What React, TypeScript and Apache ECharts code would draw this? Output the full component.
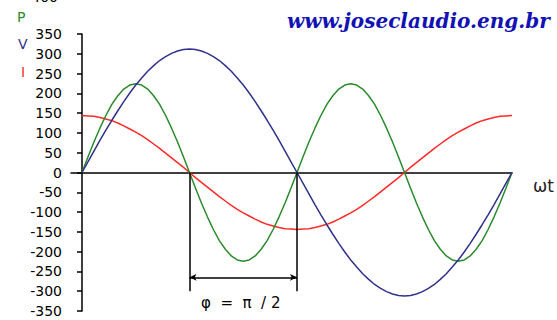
import React, { useEffect, useRef } from "react";
import * as echarts from "echarts";

// ωt in degrees, sampled every 5°
const ANGLES = [
  0, 5, 10, 15, 20, 25, 30, 35, 40, 45, 50, 55, 60, 65, 70, 75, 80, 85, 90,
  95, 100, 105, 110, 115, 120, 125, 130, 135, 140, 145, 150, 155, 160, 165, 170, 175, 180,
  185, 190, 195, 200, 205, 210, 215, 220, 225, 230, 235, 240, 245, 250, 255, 260, 265, 270,
  275, 280, 285, 290, 295, 300, 305, 310, 315, 320, 325, 330, 335, 340, 345, 350, 355, 360,
];

// Voltage V
const V_VALUES = [
  0, 27, 54, 81, 107, 132, 156, 179, 201, 221, 239, 256, 270, 283, 293, 301, 307, 311, 312,
  311, 307, 301, 293, 283, 270, 256, 239, 221, 201, 179, 156, 132, 107, 81, 54, 27, 0,
  -27, -54, -81, -107, -132, -156, -179, -201, -221, -239, -256, -270, -283, -293, -301, -307, -311, -312,
  -311, -307, -301, -293, -283, -270, -256, -239, -221, -201, -179, -156, -132, -107, -81, -54, -27, 0,
];

// Current I
const I_VALUES = [
  144, 143, 142, 139, 135, 131, 125, 118, 110, 102, 93, 83, 72, 61, 49, 37, 25, 13, 0,
  -13, -25, -37, -49, -61, -72, -83, -93, -102, -110, -118, -125, -131, -135, -139, -142, -143, -144,
  -143, -142, -139, -135, -131, -125, -118, -110, -102, -93, -83, -72, -61, -49, -37, -25, -13, 0,
  13, 25, 37, 49, 61, 72, 83, 93, 102, 110, 118, 125, 131, 135, 139, 142, 143, 144,
];

// Power P
const P_VALUES = [
  0, 39, 77, 112, 144, 172, 194, 211, 221, 224, 221, 211, 194, 172, 144, 112, 77, 39, 0,
  -39, -77, -112, -144, -172, -194, -211, -221, -224, -221, -211, -194, -172, -144, -112, -77, -39, 0,
  39, 77, 112, 144, 172, 194, 211, 221, 224, 221, 211, 194, 172, 144, 112, 77, 39, 0,
  -39, -77, -112, -144, -172, -194, -211, -221, -224, -221, -211, -194, -172, -144, -112, -77, -39, 0,
];

const Y_MIN = -350;
const Y_MAX = 350;
const Y_STEP = 50;

const BLUE = "#31318c";
const GREEN = "#2b8a2b";
const RED = "#ff2a2a";

const pairs = (vals: number[]) => vals.map((v, i) => [ANGLES[i], v]);

export default function App() {
  const ref = useRef<HTMLDivElement>(null);

  useEffect(() => {
    if (!ref.current) return;
    const chart = echarts.init(ref.current, undefined, { renderer: "svg" });
    const lineSeries = (name: string, vals: number[], color: string, z: number) => ({
      name,
      type: "line",
      data: pairs(vals),
      symbol: "none",
      z,
      lineStyle: { color, width: 1.5 },
    });

    chart.setOption({
      animation: false,
      backgroundColor: "#ffffff",
      grid: { left: 71, right: 45, top: 34, bottom: 9 },
      xAxis: {
        type: "value",
        min: -9.2,
        max: 360,
        axisLine: { show: true, onZero: true, lineStyle: { color: "#000", width: 1.5 } },
        axisTick: { show: false },
        axisLabel: { show: false },
        splitLine: { show: false },
      },
      yAxis: {
        type: "value",
        min: Y_MIN,
        max: Y_MAX,
        interval: Y_STEP,
        axisLine: { show: true, lineStyle: { color: "#000", width: 1.5 } },
        axisTick: { show: true, length: 5, lineStyle: { color: "#000", width: 1.5 } },
        axisLabel: {
          color: "#000",
          fontSize: 14,
          fontFamily: "DejaVu Sans",
          margin: 9,
        },
        splitLine: { show: false },
      },
      series: [
        lineSeries("I", I_VALUES, RED, 2),
        lineSeries("P", P_VALUES, GREEN, 3),
        {
          ...lineSeries("V", V_VALUES, BLUE, 4),
          markLine: {
            silent: true,
            symbol: "none",
            label: { show: false },
            lineStyle: { color: "#000", width: 1.5, type: "solid" },
            data: [
              [{ coord: [90, 0] }, { coord: [90, -300] }],
              [{ coord: [180, 0] }, { coord: [180, -300] }],
              [
                { coord: [90, -265], symbol: "arrow", symbolSize: [5, 7] },
                { coord: [180, -265], symbol: "arrow", symbolSize: [5, 7] },
              ],
            ],
          },
        },
      ],
      graphic: [
        {
          type: "text",
          left: 287,
          top: 11,
          style: {
            text: "www.joseclaudio.eng.br",
            fill: "#1212b4",
            font: "italic bold 20px 'DejaVu Serif'",
          },
        },
        { type: "text", left: 17, top: 10, style: { text: "P", fill: GREEN, font: "14px 'DejaVu Sans'" } },
        { type: "text", left: 18, top: 37, style: { text: "V", fill: BLUE, font: "14px 'DejaVu Sans'" } },
        { type: "text", left: 21, top: 65, style: { text: "I", fill: RED, font: "14px 'DejaVu Sans'" } },
        {
          type: "text",
          x: 58,
          y: -10,
          style: { text: "400", fill: "#000", font: "14px 'DejaVu Sans'", align: "right" },
        },
        { type: "text", left: 533, top: 177, style: { text: "ωt", fill: "#222", font: "17px 'DejaVu Sans'" } },
        {
          type: "text",
          left: 201,
          top: 295,
          style: { text: "φ  =  π  / 2", fill: "#000", font: "15px 'DejaVu Sans'" },
        },
      ],
    });
    return () => chart.dispose();
  }, []);

  return (
    <div
      ref={ref}
      style={{ position: "fixed", left: 0, top: 0, width: 557, height: 320 }}
    />
  );
}
